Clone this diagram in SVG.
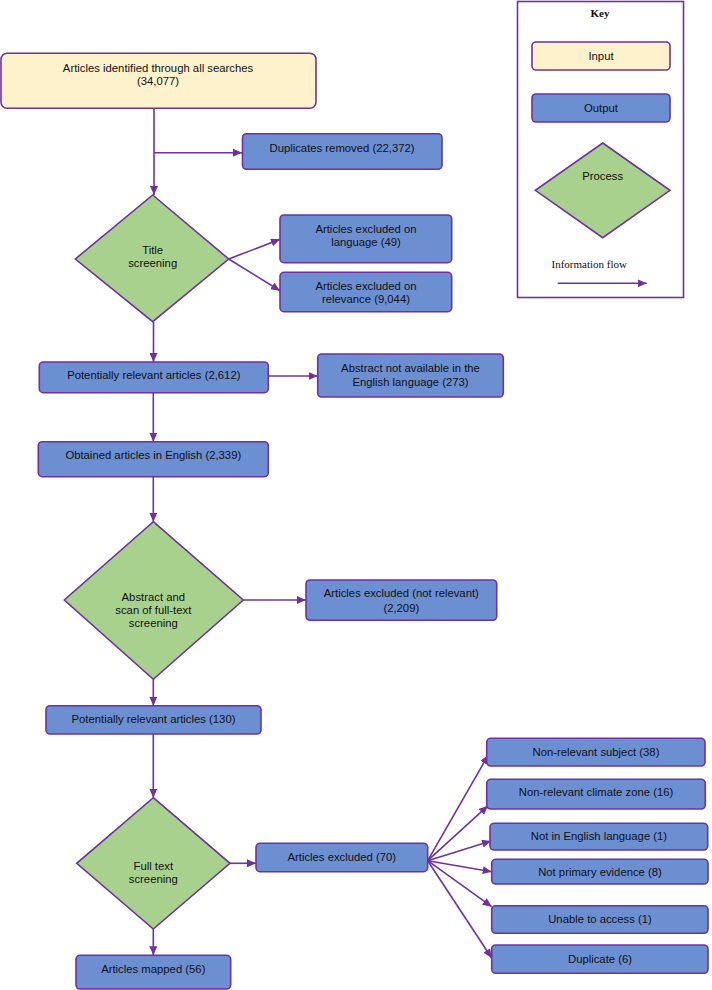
<svg xmlns="http://www.w3.org/2000/svg" width="712" height="990" viewBox="0 0 712 990">
<style>
.in{fill:#FEF2CC;stroke:#7030A0;stroke-width:1.6}
.out{fill:#6C8FD1;stroke:#7030A0;stroke-width:1.6}
.pr{fill:#A9D18E;stroke:#7030A0;stroke-width:1.6}
.t{font-family:"Liberation Sans",Arial,sans-serif;font-size:11.3px;fill:#111;text-anchor:middle}
.s{font-family:"Liberation Serif","Times New Roman",serif;font-size:11px;fill:#111}
.c{stroke:#7030A0;stroke-width:1.6;fill:none}
</style>
<defs>
<marker id="ah" markerUnits="userSpaceOnUse" markerWidth="10" markerHeight="8" refX="9" refY="4" orient="auto">
<path d="M0,0 L9,4 L0,8 z" fill="#7030A0"/>
</marker>
</defs>
<rect width="712" height="990" fill="#fff"/>

<g id="key">
<rect x="517.5" y="1.5" width="166" height="296" fill="#fff" stroke="#7030A0" stroke-width="1.6"/>
<text class="s" x="600" y="17" text-anchor="middle" font-weight="bold" font-size="10.5px">Key</text>
<rect class="in" x="532" y="42" width="138" height="28" rx="4"/>
<text class="t" x="601" y="59.5">Input</text>
<rect class="out" x="532" y="94" width="138" height="28" rx="4"/>
<text class="t" x="601" y="111.5">Output</text>
<polygon class="pr" points="602.7,143 670,190.3 602.7,237.7 535.3,190.3"/>
<text class="t" x="602.7" y="180">Process</text>
<text class="s" x="551.5" y="268">Information flow</text>
<line class="c" x1="557.7" y1="283.3" x2="646.7" y2="283.3" marker-end="url(#ah)"/>
</g>

<g id="connectors">
<line class="c" x1="154" y1="108.5" x2="154" y2="195" marker-end="url(#ah)"/>
<line class="c" x1="154" y1="152.7" x2="242" y2="152.7" marker-end="url(#ah)"/>
<line class="c" x1="228.7" y1="259" x2="280" y2="239.3" marker-end="url(#ah)"/>
<line class="c" x1="228.7" y1="259" x2="280" y2="290.7" marker-end="url(#ah)"/>
<line class="c" x1="153.5" y1="321.7" x2="153.5" y2="362" marker-end="url(#ah)"/>
<line class="c" x1="268.3" y1="376" x2="317.7" y2="376" marker-end="url(#ah)"/>
<line class="c" x1="153.3" y1="392.7" x2="153.3" y2="441.7" marker-end="url(#ah)"/>
<line class="c" x1="153.3" y1="476.7" x2="153.3" y2="521.7" marker-end="url(#ah)"/>
<line class="c" x1="243.3" y1="600" x2="306" y2="600" marker-end="url(#ah)"/>
<line class="c" x1="153.3" y1="679.3" x2="153.3" y2="705.7" marker-end="url(#ah)"/>
<line class="c" x1="153.3" y1="734" x2="153.3" y2="797.7" marker-end="url(#ah)"/>
<line class="c" x1="230" y1="863.3" x2="256" y2="863.3" marker-end="url(#ah)"/>
<line class="c" x1="153.3" y1="929" x2="153.3" y2="955.3" marker-end="url(#ah)"/>
<line class="c" x1="427.7" y1="860.7" x2="488.3" y2="755" marker-end="url(#ah)"/>
<line class="c" x1="427.7" y1="860.7" x2="488" y2="805.7" marker-end="url(#ah)"/>
<line class="c" x1="427.7" y1="860.7" x2="491" y2="841" marker-end="url(#ah)"/>
<line class="c" x1="427.7" y1="860.7" x2="491.7" y2="871.7" marker-end="url(#ah)"/>
<line class="c" x1="427.7" y1="860.7" x2="491.7" y2="906.7" marker-end="url(#ah)"/>
<line class="c" x1="427.7" y1="860.7" x2="491.7" y2="958" marker-end="url(#ah)"/>
</g>

<g id="n-identified">
<rect class="in" x="1" y="53.3" width="315" height="55" rx="6"/>
<text class="t" x="158" y="71.5">Articles identified through all searches</text>
<text class="t" x="158" y="85">(34,077)</text>
</g>
<g id="n-duplicates">
<rect class="out" x="242.5" y="133.7" width="199.5" height="35.6" rx="4"/>
<text class="t" x="342" y="151.5">Duplicates removed (22,372)</text>
</g>
<g id="n-title">
<polygon class="pr" points="152.7,195 228.7,259 152.7,321.7 75.3,259"/>
<text class="t" x="152.7" y="253.5">Title</text>
<text class="t" x="152.7" y="266.8">screening</text>
</g>
<g id="n-language">
<rect class="out" x="280" y="215" width="171.7" height="47.7" rx="4"/>
<text class="t" x="366" y="233">Articles excluded on</text>
<text class="t" x="366" y="246">language (49)</text>
</g>
<g id="n-relevance">
<rect class="out" x="280" y="272.3" width="171.7" height="39.4" rx="4"/>
<text class="t" x="366" y="290">Articles excluded on</text>
<text class="t" x="366" y="302.7">relevance (9,044)</text>
</g>
<g id="n-potential1">
<rect class="out" x="39.3" y="362" width="229" height="30.7" rx="4"/>
<text class="t" x="153.8" y="379">Potentially relevant articles (2,612)</text>
</g>
<g id="n-abstract-na">
<rect class="out" x="317.7" y="354" width="185.6" height="43" rx="4"/>
<text class="t" x="410.5" y="372.3">Abstract not available in the</text>
<text class="t" x="410.5" y="385.7">English language (273)</text>
</g>
<g id="n-obtained">
<rect class="out" x="38.3" y="441.7" width="230" height="35" rx="4"/>
<text class="t" x="153.3" y="459">Obtained articles in English (2,339)</text>
</g>
<g id="n-abstract-scan">
<polygon class="pr" points="153.3,521.7 243.3,600 153.3,679.3 64.3,600"/>
<text class="t" x="153.3" y="600.7">Abstract and</text>
<text class="t" x="153.3" y="614">scan of full-text</text>
<text class="t" x="153.3" y="627.3">screening</text>
</g>
<g id="n-excl-notrel">
<rect class="out" x="306" y="580" width="190.7" height="40.3" rx="4"/>
<text class="t" x="401.3" y="597.3">Articles excluded (not relevant)</text>
<text class="t" x="401.3" y="611.7">(2,209)</text>
</g>
<g id="n-potential2">
<rect class="out" x="46" y="705.7" width="215" height="28.3" rx="4"/>
<text class="t" x="153.5" y="723.3">Potentially relevant articles (130)</text>
</g>
<g id="n-fulltext">
<polygon class="pr" points="153.3,797.7 230,863.3 153.3,929 76.7,863.3"/>
<text class="t" x="153.3" y="870">Full text</text>
<text class="t" x="153.3" y="883">screening</text>
</g>
<g id="n-excl70">
<rect class="out" x="256" y="843.3" width="171.7" height="28.4" rx="4"/>
<text class="t" x="341.8" y="860.7">Articles excluded (70)</text>
</g>
<g id="n-mapped">
<rect class="out" x="76" y="955.3" width="154.7" height="33.7" rx="4"/>
<text class="t" x="153.3" y="973">Articles mapped (56)</text>
</g>
<g id="n-subject">
<rect class="out" x="486.7" y="738.3" width="218.3" height="27.7" rx="4"/>
<text class="t" x="596" y="755.7">Non-relevant subject (38)</text>
</g>
<g id="n-climate">
<rect class="out" x="486.7" y="779.3" width="218.6" height="29.7" rx="4"/>
<text class="t" x="596" y="796.3">Non-relevant climate zone (16)</text>
</g>
<g id="n-english">
<rect class="out" x="490" y="823.3" width="217.7" height="26.7" rx="4"/>
<text class="t" x="599" y="840">Not in English language (1)</text>
</g>
<g id="n-primary">
<rect class="out" x="491.7" y="859.3" width="216.3" height="24.7" rx="4"/>
<text class="t" x="600" y="876.3">Not primary evidence (8)</text>
</g>
<g id="n-unable">
<rect class="out" x="491.7" y="905.7" width="216.3" height="27.6" rx="4"/>
<text class="t" x="600" y="923">Unable to access (1)</text>
</g>
<g id="n-duplicate">
<rect class="out" x="491.7" y="945" width="216.3" height="28.3" rx="4"/>
<text class="t" x="600" y="962.7">Duplicate (6)</text>
</g>
</svg>
